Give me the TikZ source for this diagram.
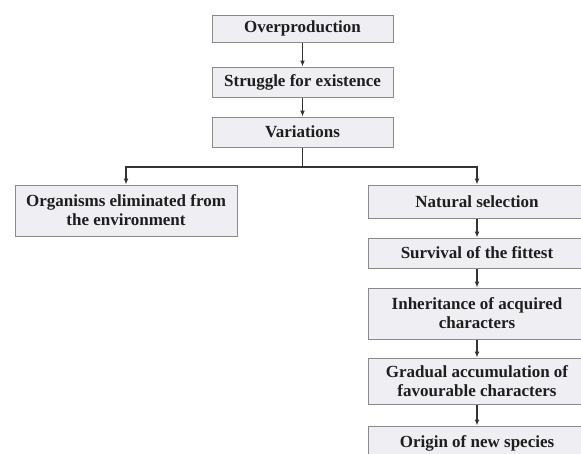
\documentclass[tikz,border=0pt]{standalone}
\usepackage{fontspec}
\setmainfont{Liberation Serif}
\usetikzlibrary{arrows.meta}
\definecolor{boxfill}{HTML}{EFEFF3}
\definecolor{boxline}{HTML}{8A8A8A}
\definecolor{txt}{HTML}{1E1E1E}
\definecolor{arrline}{HTML}{333333}
\begin{document}
\begin{tikzpicture}[x=1pt,y=-1pt,
  box/.style={draw=boxline, fill=boxfill, line width=1pt, inner sep=0pt, align=center,
    font=\fontsize{17}{19}\selectfont\bfseries, text=txt},
  link/.style={draw=arrline, line width=1.2pt},
  arr/.style={link, -{Latex[length=6pt,width=5pt]}}]
\useasboundingbox (0,0) rectangle (581,453);
\clip (0,0) rectangle (581,453);
\fill[white] (0,0) rectangle (581,453);
% left column (top)
\node[box, minimum width=181pt, minimum height=27pt] (over) at (302.5,28.5) {Overproduction};
\node[box, minimum width=181pt, minimum height=30pt] (strug) at (302.5,82) {Struggle for existence};
\node[box, minimum width=181pt, minimum height=30pt] (var) at (302.5,132) {Variations};
% branches
\node[box, minimum width=222pt, minimum height=51pt] (org) at (126,210.5) {Organisms eliminated from\\the environment};
\node[box, minimum width=218pt, minimum height=33pt] (nat) at (477,201.5) {Natural selection};
\node[box, minimum width=218pt, minimum height=30pt] (surv) at (477,253) {Survival of the fittest};
\node[box, minimum width=218pt, minimum height=51pt] (inh) at (477,313.5) {Inheritance of acquired\\characters};
\node[box, minimum width=218pt, minimum height=46pt] (grad) at (477,381) {Gradual accumulation of\\favourable characters};
\node[box, minimum width=218pt, minimum height=34pt] (orig) at (477,443) {Origin of new species};
% connectors
\draw[arr] (over) -- (strug);
\draw[arr] (strug) -- (var);
\coordinate (j) at (302.5,167);
\draw[link] (var.south) -- (j);
\draw[arr] (j) -| (org.north);
\draw[arr] (j) -| (nat.north);
\draw[arr] (nat) -- (surv);
\draw[arr] (surv) -- (inh);
\draw[arr] (inh) -- (grad);
\draw[arr] (grad) -- (orig);
\end{tikzpicture}
\end{document}
